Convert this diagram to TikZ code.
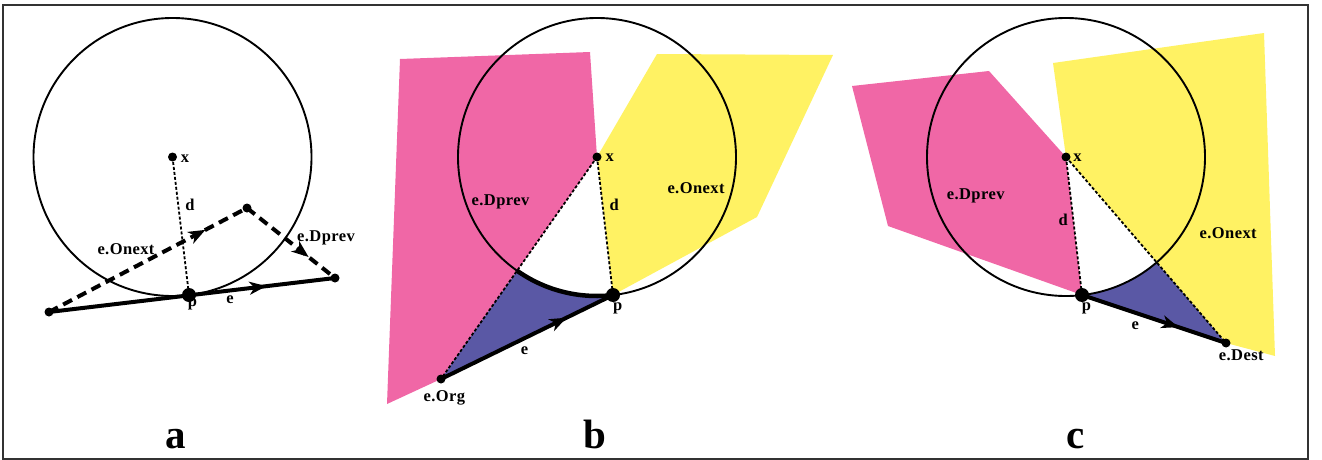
\documentclass[tikz,border=0pt]{standalone}
\usepackage{fontspec}
\setmainfont{Liberation Serif}
\newfontfamily\lblfont[LetterSpace=2.5]{Liberation Serif}
\usetikzlibrary{arrows.meta,decorations.markings}
\definecolor{pinkfill}{RGB}{240,103,166}
\definecolor{yellowfill}{RGB}{255,242,99}
\definecolor{bluefill}{RGB}{90,88,165}
\begin{document}
\begin{tikzpicture}[x=1pt,y=-1pt,
 lbl/.style={font=\lblfont\bfseries\fontsize{16.5}{19}\selectfont, inner sep=0pt, anchor=base},
 big/.style={font=\bfseries\fontsize{41}{44}\selectfont, inner sep=0pt, anchor=base},
 ring/.style={draw=black, line width=1.9pt},
 edgeline/.style={line width=4pt},
 dashedge/.style={line width=4pt, dash pattern=on 10pt off 6pt},
 dotline/.style={line width=1.8pt, dash pattern=on 3pt off 2pt},
 midarrow/.style={postaction={decorate},decoration={markings,mark=at position #1 with {\arrow{Stealth[length=17pt,width=13pt,inset=5pt]}}}},
]
\useasboundingbox (0,0) rectangle (1322,460);
\draw[line width=1.3pt, draw=black!80] (3,5) rectangle (1308,459);

% ---------- panel a ----------
\coordinate (xa) at (172.5,157);
\coordinate (pa) at (189,295);
\coordinate (oa) at (49,312);
\coordinate (da) at (335,278);
\coordinate (ma) at (247,208);
\draw[ring] (xa) circle[radius=139];
\draw[dotline] (xa) -- (pa);
\draw[dashedge, midarrow=0.79] (oa) -- (ma);
\draw[dashedge, midarrow=0.70] (ma) -- (da);
\draw[edgeline, midarrow=0.76] (oa) -- (da);
\fill (oa) circle[radius=4.5];
\fill (da) circle[radius=4.5];
\fill (ma) circle[radius=4.5];
\fill (xa) circle[radius=4.5];
\fill (pa) circle[radius=7];
\node[lbl] (lxa) at (185,162.7) {x};
\node[lbl] (lda) at (190,210) {d};
\node[lbl] (lona) at (126,254) {e.Onext};
\node[lbl] (ldpa) at (326,241) {e.Dprev};
\node[lbl] (lpa) at (192.5,306.5) {p};
\node[lbl] (lea) at (230,303.3) {e};
\node[big] (biga) at (175.7,448) {a};

% ---------- panel b ----------
\coordinate (xb) at (597,157);
\coordinate (pb) at (613,295);
\coordinate (ob) at (441,379);
\fill[pinkfill] (400,59) -- (590,52) -- (xb) -- (ob) -- (387,404) -- cycle;
\fill[yellowfill] (657,54) -- (833,55) -- (757,217) -- (pb) -- (xb) -- cycle;
\begin{scope}[even odd rule]
 \clip (0,0) rectangle (1322,460) (xb) circle[radius=139];
 \fill[bluefill] (ob) -- (pb) -- (xb) -- cycle;
\end{scope}
\draw[ring] (xb) circle[radius=139];
\begin{scope}
 \clip (ob) -- (pb) -- (xb) -- cycle;
 \draw[line width=4.5pt] (xb) circle[radius=139];
\end{scope}
\draw[dotline] (xb) -- (ob);
\draw[dotline] (xb) -- (pb);
\draw[edgeline, midarrow=0.73] (ob) -- (pb);
\fill (ob) circle[radius=4.5];
\fill (xb) circle[radius=4.5];
\fill (pb) circle[radius=7];
\node[lbl] (lxb) at (609.7,161.7) {x};
\node[lbl] (ldpb) at (500.5,205.7) {e.Dprev};
\node[lbl] (lonb) at (696,193.3) {e.Onext};
\node[lbl] (ldb) at (614.3,210) {d};
\node[lbl] (lpb) at (617.7,310.7) {p};
\node[lbl] (leb) at (524.5,354) {e};
\node[lbl] (lob) at (444.3,401.7) {e.Org};
\node[big] (bigb) at (595,448) {b};

% ---------- panel c ----------
\coordinate (xc) at (1066,157);
\coordinate (pc) at (1082,295);
\coordinate (dc) at (1226,343);
\fill[pinkfill] (852,86) -- (989,71) -- (xc) -- (pc) -- (888,226) -- cycle;
\fill[yellowfill] (1053,63) -- (1264,33) -- (1275,356) -- (dc) -- (xc) -- cycle;
\begin{scope}[even odd rule]
 \clip (0,0) rectangle (1322,460) (xc) circle[radius=139];
 \fill[bluefill] (pc) -- (dc) -- (xc) -- cycle;
\end{scope}
\draw[ring] (xc) circle[radius=139];
\draw[dotline] (xc) -- (pc);
\draw[dotline] (xc) -- (dc);
\draw[edgeline, midarrow=0.67] (pc) -- (dc);
\fill (dc) circle[radius=4.5];
\fill (xc) circle[radius=4.5];
\fill (pc) circle[radius=7];
\node[lbl] (lxc) at (1077.5,161.7) {x};
\node[lbl] (ldpc) at (975.7,199.3) {e.Dprev};
\node[lbl] (ldc) at (1063.3,225.7) {d};
\node[lbl] (lonc) at (1228.2,238.3) {e.Onext};
\node[lbl] (lpc) at (1086.5,310) {p};
\node[lbl] (lec) at (1135.3,329.3) {e};
\node[lbl] (ldec) at (1241.3,360) {e.Dest};
\node[big] (bigc) at (1076,448) {c};
\end{tikzpicture}
\end{document}
